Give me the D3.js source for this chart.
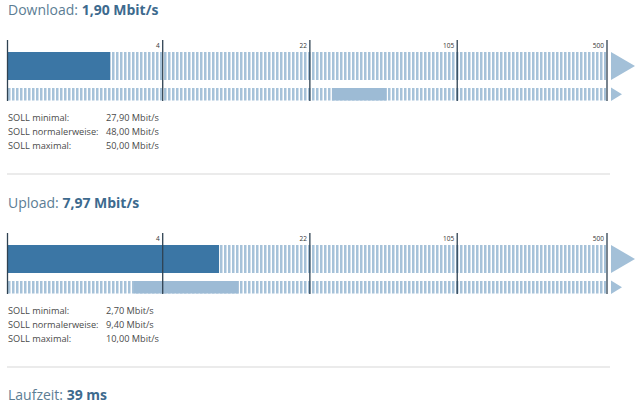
<!DOCTYPE html>
<html><head><meta charset="utf-8">
<script src="https://cdn.jsdelivr.net/npm/d3@7"></script>
<style>
body{margin:0;background:#fff;}
svg{display:block;font-family:"Open Sans",sans-serif;}
</style></head>
<body><svg id="c" width="640" height="405"></svg>
<script>
// ---- data ----
const sections = ["Download", "Upload"];
const measured = [1.90, 7.97];          // Mbit/s
const sollMin = [27.90, 2.70];
const sollNormal = [48.00, 9.40];
const sollMax = [50.00, 10.00];
const tickValues = [0, 4, 22, 105, 500];
const tickLabels = ["", "4", "22", "105", "500"];
const latencyLabel = "Laufzeit";
const latencyMs = 39;
const sollLabels = ["SOLL minimal:", "SOLL normalerweise:", "SOLL maximal:"];

// ---- setup ----
const de = d3.formatLocale({decimal: ",", thousands: ".", grouping: [3], currency: ["", " €"]});
const fmt = de.format(",.2f");
const svg = d3.select("#c");
const x = d3.scaleSymlog().constant(1).domain([0, 500]).range([7.5, 607]);

const C = {
  dark: "#3b76a5", stripe: "#a6c2d9", soll: "#9dbbd5", arrow: "#a3c0d8",
  tick: "#2f4252", title: "#5c7d94", titleBold: "#3d6a8e", text: "#4a4a4a", sep: "#d8d8d8"
};

const defs = svg.append("defs");
const pat = defs.append("pattern").attr("id", "stripes").attr("patternUnits", "userSpaceOnUse")
  .attr("x", 8).attr("y", 0).attr("width", 4).attr("height", 10);
pat.append("rect").attr("x", 0).attr("y", 0).attr("width", 2.5).attr("height", 10).attr("fill", C.stripe);

const sectionStep = 193;
const barTop = 52, barH = 28, subTop = 88, subH = 12.5;

sections.forEach((name, i) => {
  const g = svg.append("g").attr("transform", `translate(0,${i * sectionStep})`);
  // title
  const t = g.append("text").attr("x", 8).attr("y", 15).attr("font-size", 14);
  t.append("tspan").attr("fill", C.title).text(name + ": ");
  t.append("tspan").attr("fill", C.titleBold).attr("font-weight", "bold").text(fmt(measured[i]) + " Mbit/s");

  // striped tracks
  g.append("rect").attr("x", x(0)).attr("y", barTop).attr("width", x(500) - x(0) - 1).attr("height", barH).attr("fill", "url(#stripes)");
  g.append("rect").attr("x", x(0)).attr("y", subTop).attr("width", x(500) - x(0) - 1).attr("height", subH).attr("fill", "url(#stripes)");

  // measured bar
  g.append("rect").attr("x", x(0)).attr("y", barTop).attr("width", x(measured[i]) - x(0)).attr("height", barH).attr("fill", C.dark);
  // soll range bar
  g.append("rect").attr("x", x(sollMin[i])).attr("y", subTop).attr("width", x(sollMax[i]) - x(sollMin[i])).attr("height", subH).attr("fill", C.soll);

  // arrows
  const ax = x(500) + 4;
  g.append("path").attr("d", `M${ax},${barTop}L${ax + 24},${barTop + barH / 2}L${ax},${barTop + barH}Z`).attr("fill", C.arrow);
  g.append("path").attr("d", `M${ax},${subTop - 0.5}L${ax + 11},${subTop + subH / 2}L${ax},${subTop + subH + 0.5}Z`).attr("fill", C.arrow);

  // ticks
  tickValues.forEach((v, k) => {
    g.append("line").attr("x1", x(v)).attr("x2", x(v)).attr("y1", 40).attr("y2", 101)
      .attr("stroke", C.tick).attr("stroke-width", 1.3);
    if (tickLabels[k]) {
      g.append("text").attr("x", x(v) - 3).attr("y", 48).attr("text-anchor", "end")
        .attr("font-size", 6.5).attr("fill", "#333").text(tickLabels[k]);
    }
  });

  // SOLL rows
  const vals = [sollMin[i], sollNormal[i], sollMax[i]];
  sollLabels.forEach((lab, k) => {
    g.append("text").attr("x", 8).attr("y", 121 + k * 14).attr("font-size", 9.2).attr("fill", C.text).text(lab);
    g.append("text").attr("x", 106).attr("y", 121 + k * 14).attr("font-size", 9.2).attr("fill", C.text).text(fmt(vals[k]) + " Mbit/s");
  });

  // separator
  g.append("line").attr("x1", 7).attr("x2", 610).attr("y1", 174).attr("y2", 174).attr("stroke", C.sep).attr("stroke-width", 1.2);
});

const lt = svg.append("text").attr("x", 8).attr("y", 400).attr("font-size", 14);
lt.append("tspan").attr("fill", C.title).text(latencyLabel + ": ");
lt.append("tspan").attr("fill", C.titleBold).attr("font-weight", "bold").text(latencyMs + " ms");
</script>
</body></html>
